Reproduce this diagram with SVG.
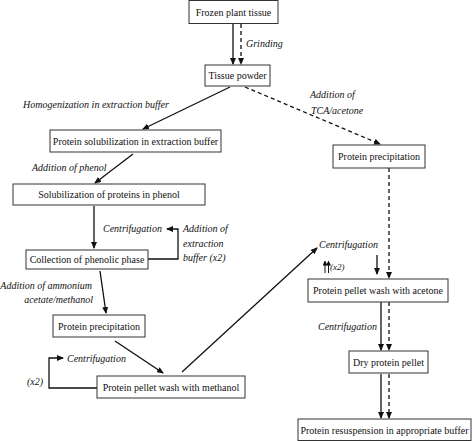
<svg xmlns="http://www.w3.org/2000/svg" width="474" height="441" viewBox="0 0 474 441">
<style>
.box{fill:#fff;stroke:#333;stroke-width:1}
.t{font-family:"Liberation Serif","Times New Roman",serif;font-size:10px;fill:#111;text-anchor:middle}
.l{font-family:"Liberation Serif","Times New Roman",serif;font-size:10px;font-style:italic;fill:#111}
.s{fill:none;stroke:#111;stroke-width:1.3}
.d{fill:none;stroke:#111;stroke-width:1.3;stroke-dasharray:4 3}
.th{fill:none;stroke:#111;stroke-width:1}
</style>
<defs>
<marker id="ah" markerUnits="userSpaceOnUse" markerWidth="7" markerHeight="6" refX="6" refY="3" orient="auto">
<path d="M0,0 L7,3 L0,6 Z" fill="#111"/>
</marker>
<marker id="ahs" markerUnits="userSpaceOnUse" markerWidth="5" markerHeight="5" refX="4.5" refY="2.5" orient="auto">
<path d="M0,0 L5,2.5 L0,5 Z" fill="#111"/>
</marker>
</defs>
<rect width="474" height="441" fill="#fff"/>
<g id="connectors">
<line class="s" x1="233" y1="24" x2="233" y2="64" marker-end="url(#ah)"/>
<line class="d" x1="241" y1="24" x2="241" y2="64" marker-end="url(#ah)"/>
<line class="s" x1="230" y1="87" x2="143" y2="129" marker-end="url(#ah)"/>
<line class="d" x1="245" y1="87" x2="380" y2="144" marker-end="url(#ah)"/>
<line class="s" x1="133" y1="154" x2="95" y2="183" marker-end="url(#ah)"/>
<line class="s" x1="94" y1="206" x2="94" y2="248" marker-end="url(#ah)"/>
<polyline class="s" points="148,259 178,259 178,229 167,229" marker-end="url(#ah)"/>
<line class="s" x1="100" y1="271" x2="106" y2="313" marker-end="url(#ah)"/>
<line class="s" x1="115" y1="341" x2="163" y2="373" marker-end="url(#ah)"/>
<polyline class="s" points="97,388 49,388 49,358 63,358" marker-end="url(#ah)"/>
<line class="s" x1="182" y1="372" x2="317" y2="248" marker-end="url(#ah)"/>
<line class="th" x1="325" y1="273" x2="325" y2="261" marker-end="url(#ahs)"/>
<line class="th" x1="328.5" y1="273" x2="328.5" y2="261" marker-end="url(#ahs)"/>
<line class="s" x1="377" y1="255" x2="377" y2="274" marker-end="url(#ah)"/>
<line class="d" x1="389" y1="168" x2="389" y2="278" marker-end="url(#ah)"/>
<line class="s" x1="381" y1="302" x2="381" y2="350" marker-end="url(#ah)"/>
<line class="d" x1="389" y1="302" x2="389" y2="350" marker-end="url(#ah)"/>
<line class="s" x1="381" y1="374" x2="381" y2="418" marker-end="url(#ah)"/>
<line class="d" x1="389" y1="374" x2="389" y2="418" marker-end="url(#ah)"/>
</g>
<g id="labels">
<text class="l" x="246" y="47">Grinding</text>
<text class="l" x="23" y="108">Homogenization in extraction buffer</text>
<text class="l" x="310" y="98">Addition of</text>
<text class="l" x="311" y="114">TCA/acetone</text>
<text class="l" x="32" y="171">Addition of phenol</text>
<text class="l" x="103" y="232">Centrifugation</text>
<text class="l" x="183" y="232">Addition of</text>
<text class="l" x="183" y="247">extraction</text>
<text class="l" x="183" y="261">buffer (x2)</text>
<text class="l" x="92" y="289" text-anchor="end">Addition of ammonium</text>
<text class="l" x="93" y="303" text-anchor="end">acetate/methanol</text>
<text class="l" x="67" y="362">Centrifugation</text>
<text class="l" x="27" y="385">(x2)</text>
<text class="l" x="319" y="248">Centrifugation</text>
<text class="l" x="330" y="270" style="font-size:9px">(x2)</text>
<text class="l" x="318" y="330">Centrifugation</text>
</g>
<g id="n1"><rect class="box" x="189" y="0.5" width="89" height="23"/><text class="t" x="233.5" y="16">Frozen plant tissue</text></g>
<g id="n2"><rect class="box" x="205" y="65" width="65" height="21"/><text class="t" x="237.5" y="79">Tissue powder</text></g>
<g id="n3"><rect class="box" x="50" y="130" width="171" height="22"/><text class="t" x="135.5" y="145">Protein solubilization in extraction buffer</text></g>
<g id="n4"><rect class="box" x="13" y="184" width="192" height="21"/><text class="t" x="109" y="198">Solubilization of proteins in phenol</text></g>
<g id="n5"><rect class="box" x="26" y="250" width="122" height="19"/><text class="t" x="87" y="263">Collection of phenolic phase</text></g>
<g id="n6"><rect class="box" x="53" y="315" width="92" height="22"/><text class="t" x="99" y="330">Protein precipitation</text></g>
<g id="n7"><rect class="box" x="97" y="376" width="148" height="22"/><text class="t" x="171" y="391">Protein pellet wash with methanol</text></g>
<g id="n8"><rect class="box" x="333" y="145" width="92" height="23"/><text class="t" x="379" y="160">Protein precipitation</text></g>
<g id="n9"><rect class="box" x="308" y="279" width="140" height="23"/><text class="t" x="378" y="294">Protein pellet wash with acetone</text></g>
<g id="n10"><rect class="box" x="349" y="351" width="79" height="22"/><text class="t" x="388.5" y="366">Dry protein pellet</text></g>
<g id="n11"><rect class="box" x="298" y="419" width="173" height="21.5"/><text class="t" x="384.5" y="434">Protein resuspension in appropriate buffer</text></g>
</svg>
